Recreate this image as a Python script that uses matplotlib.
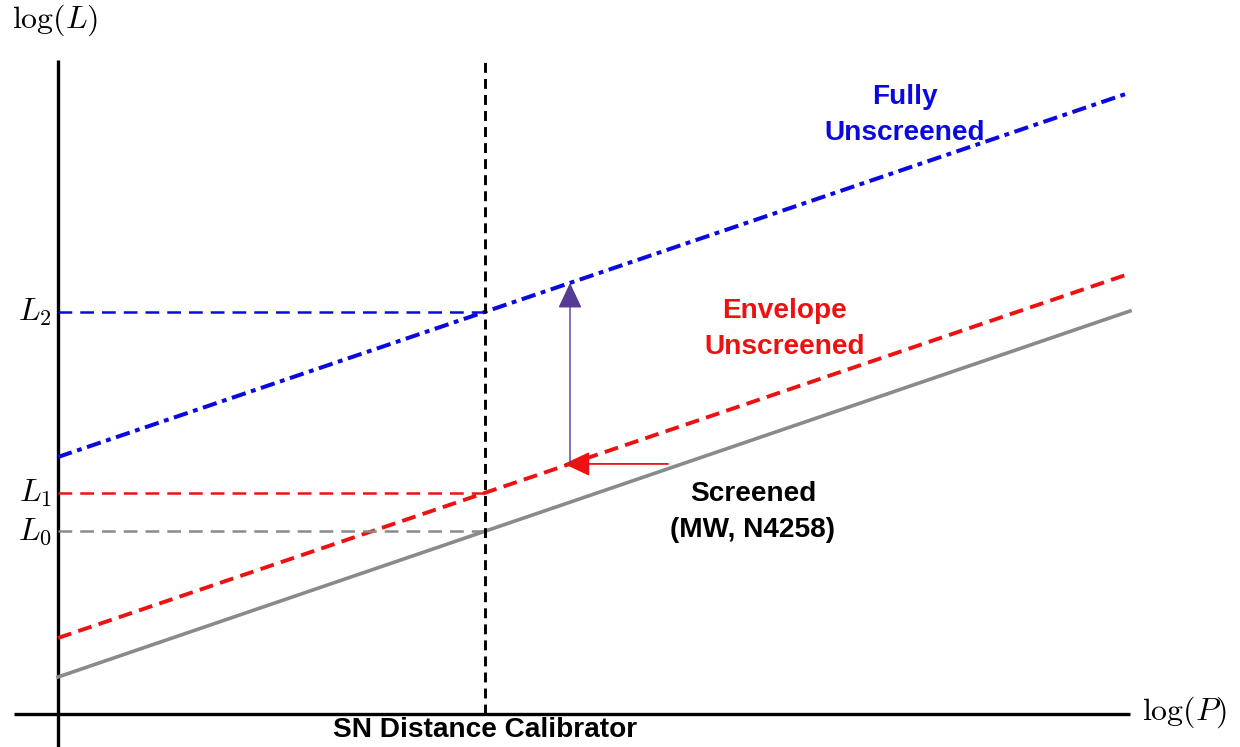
import matplotlib
matplotlib.use("Agg")
import matplotlib.pyplot as plt
import numpy as np

plt.rcParams['mathtext.fontset'] = 'cm'

# Data (log P on x, log L on y; axis crossing at origin)
x_end = [10.72, 10.67, 10.72]          # right ends of lines
series_names = ["Screened", "Envelope", "Fully"]
intercepts = [0.37, 0.76, 2.57]
slopes = [0.3414, 0.340, 0.340]
x_calib = 4.27
x_arrow = 5.12
x_arrow_tail = 6.10
level_labels = [r"$L_0$", r"$L_1$", r"$L_2$"]

fig = plt.figure(figsize=(12.4, 7.47), dpi=100)
ax = fig.add_axes([0, 0, 1, 1])
ax.set_xlim(-0.58, 11.82)
ax.set_ylim(-0.33, 7.14)
ax.axis('off')

blue = '#0a0ae0'
red = '#ee1111'
gray = '#8a8a8a'
purple = '#563a96'

# Axes lines
ax.plot([-0.44, 10.72], [0, 0], color='black', lw=2.4, solid_capstyle='butt')
ax.plot([0, 0], [-0.33, 6.54], color='black', lw=2.4, solid_capstyle='butt')

def yval(i, x):
    return intercepts[i] + slopes[i] * x

# Screened
xs = np.array([0, x_end[0]])
ax.plot(xs, yval(0, xs), color=gray, lw=2.6)
# Envelope
xs = np.array([0, x_end[1]])
ax.plot(xs, yval(1, xs), color=red, lw=2.8, dashes=(3.6, 1.9))
# Fully
xs = np.array([0, x_end[2]])
ax.plot(xs, yval(2, xs), color=blue, lw=2.9, dashes=(3.6, 1.4, 1.2, 1.4))

# Horizontal level lines
cols = [gray, red, blue]
for i in range(3):
    yl = yval(i, x_calib)
    ax.plot([0, x_calib], [yl, yl], color=cols[i], lw=1.8, dashes=(5.5, 3.2))
    ax.text(-0.06, yl, level_labels[i], ha='right', va='center', fontsize=23)

# Vertical calibrator line
ax.plot([x_calib, x_calib], [0, 6.54], color='black', lw=2.1, dashes=(3.4, 2.1))

# Arrows
y_r = yval(1, x_arrow)
y_b = yval(2, x_arrow)
ax.annotate('', xy=(x_arrow - 0.06, y_r), xytext=(x_arrow_tail, y_r),
            arrowprops=dict(arrowstyle='-|>,head_length=1.6,head_width=0.75',
                            color=red, lw=1.3, shrinkA=0, shrinkB=0))
ax.annotate('', xy=(x_arrow, y_b), xytext=(x_arrow, y_r),
            arrowprops=dict(arrowstyle='-|>,head_length=1.6,head_width=0.75',
                            color=purple, lw=1.0, shrinkA=0, shrinkB=0))

# Texts
bold = dict(fontfamily='Liberation Sans', fontweight='bold', fontsize=20.2,
            ha='center', va='center', linespacing=1.5)
ax.text(9.05 - 0.58 + 0.0, 5.99, "Fully\nUnscreened", color=blue, **bold)
ax.text(7.27, 3.85, "Envelope\nUnscreened", color=red, **bold)
ax.text(6.95, 2.02, "Screened\n(MW, N4258)", color='black', **bold)
ax.text(x_calib, -0.16, "SN Distance Calibrator", color='black', **bold)

ax.text(-0.03, 6.94, r"$\log(L)$", ha='center', va='center', fontsize=23)
ax.text(11.27, 0.02, r"$\log(P)$", ha='center', va='center', fontsize=23)

fig.savefig('out.png', dpi=100)
